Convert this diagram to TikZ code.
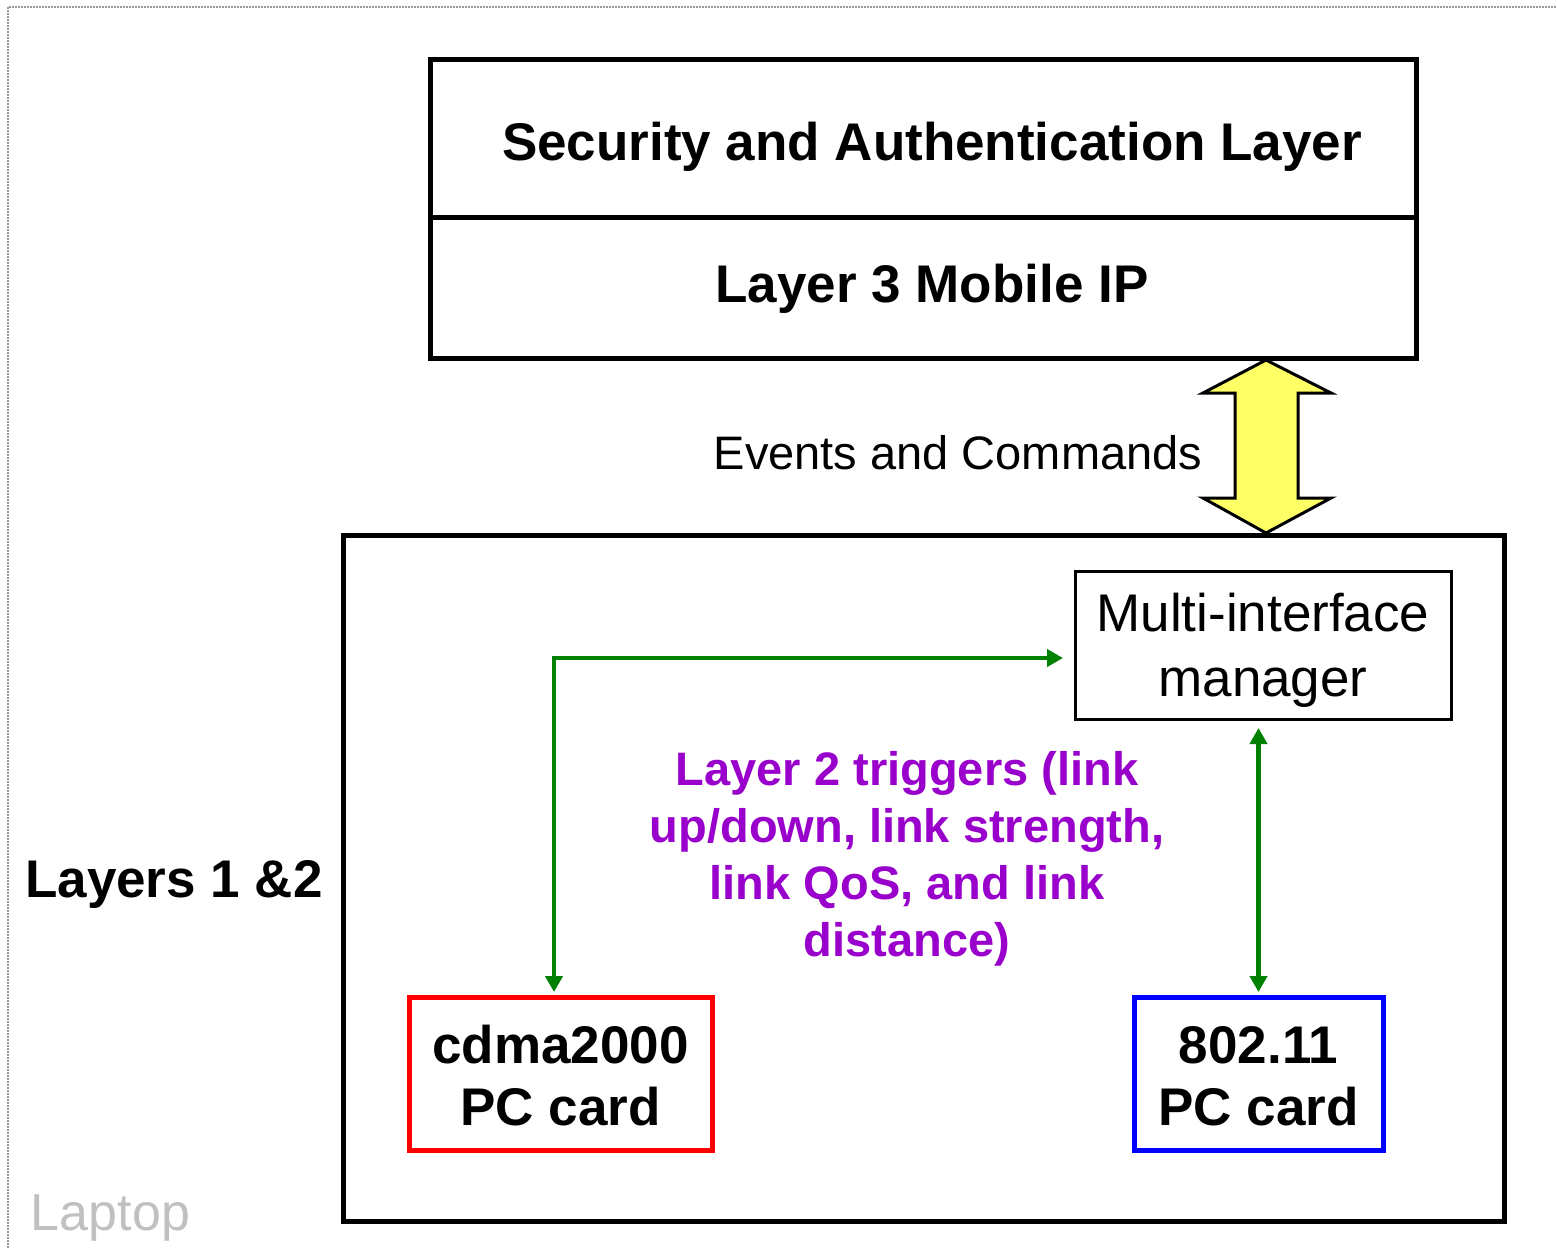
\documentclass[tikz,border=0pt]{standalone}
\usepackage{fontspec}
\setmainfont{Liberation Sans}
\usetikzlibrary{arrows.meta}
\definecolor{trigpurple}{HTML}{9900CC}
\definecolor{arrowgreen}{HTML}{008000}
\definecolor{evyellow}{HTML}{FFFF66}
\definecolor{framegray}{HTML}{999999}
\definecolor{laptopgray}{HTML}{C0C0C0}
\begin{document}
\begin{tikzpicture}[x=1pt,y=-1pt,
  bigbold/.style={font=\fontsize{53}{62}\selectfont\bfseries},
  bigreg/.style={font=\fontsize{53}{65}\selectfont},
  layerbox/.style={draw, line width=5pt, minimum width=986pt, inner sep=0pt, bigbold},
  cardbox/.style={line width=5pt, inner sep=0pt, align=center, bigbold, minimum height=153pt},
  greenarrow/.style={draw=arrowgreen, line width=4.8pt,
    {Triangle[length=16pt,width=17pt]}-{Triangle[length=16pt,width=17pt]}},
]
\useasboundingbox (0,0) rectangle (1557,1248);
% outer dotted frame
\draw[framegray, line width=1.5pt, dash pattern=on 2pt off 1pt] (8,1248) -- (8,7) -- (1557,7);

% top stack
\node[layerbox, minimum height=158pt, text height=44pt, text depth=0pt] (sec) at (923,138) {\kern18pt Security and Authentication Layer};
\node[layerbox, minimum height=141pt, text height=29pt, text depth=0pt] (l3) at (923,287.5) {\kern18pt Layer 3 Mobile IP};

% lower box
\node[draw, line width=5pt, minimum width=1161pt, minimum height=686pt, inner sep=0pt] (laptopbox) at (923.5,878) {};

% yellow double arrow
\draw[fill=evyellow, line width=3pt, line join=miter]
  (1266,360) -- (1331,393) -- (1298,393) -- (1298,498) -- (1331,498) -- (1266,533)
  -- (1203,498) -- (1235,498) -- (1235,393) -- (1203,393) -- cycle;

\node[anchor=base, font=\fontsize{47}{57}\selectfont] (events) at (958,469) {Events and Commands};

% multi-interface manager
\node[draw, line width=3pt, minimum width=376pt, minimum height=148pt, inner sep=0pt, align=center, bigreg] (multi) at (1263,645) {\rule{0pt}{48pt}Multi-interface\\manager};

% cards
\node[cardbox, draw=red, minimum width=303pt] (cdma) at (560.5,1073.5) {\rule{0pt}{42pt}cdma2000\\PC card};
\node[cardbox, draw=blue, minimum width=249pt] (wifi) at (1258.5,1073.5) {\rule{0pt}{42pt}802.11\\PC card};

% triggers text
\node[align=center, text=trigpurple, font=\fontsize{47}{57}\selectfont\bfseries] (trig) at (907,859) {Layer 2 triggers (link\\up/down, link strength,\\link QoS, and link\\distance)};

% green connectors
\coordinate (corner) at (554,658);
\draw[greenarrow, shorten <=2.5pt, shorten >=10.5pt] (cdma.north -| corner) -- (corner) -- (multi.west |- corner);
\draw[greenarrow, shorten <=2.5pt, shorten >=7.5pt] (wifi.north) -- (wifi.north |- multi.south);

% side labels
\node[anchor=base, bigbold] (layers) at (174,897) {Layers 1 \&2};
\node[anchor=base, text=laptopgray, font=\fontsize{52}{62}\selectfont] (laptop) at (110.5,1230) {Laptop};
\end{tikzpicture}
\end{document}
